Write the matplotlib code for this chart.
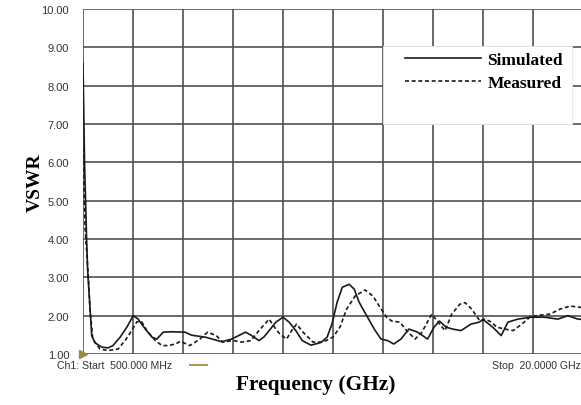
import numpy as np
import matplotlib
matplotlib.use("Agg")
import matplotlib.pyplot as plt
from matplotlib.patches import Rectangle

# data (GHz, VSWR)
sim_f = [0.5, 0.56, 0.64, 0.68, 0.84, 0.97, 1.23, 1.48, 1.67, 1.82, 1.95, 2.21, 2.46, 2.65,
         2.93, 3.19, 3.38, 3.63, 3.97, 4.48, 4.74, 5.27, 5.91, 6.30, 6.84, 7.08, 7.36, 7.55,
         7.76, 8.02, 8.30, 8.54, 8.80, 9.05, 9.39, 9.78, 10.02, 10.21, 10.41, 10.61, 10.88,
         11.08, 11.27, 11.53, 11.86, 12.12, 12.38, 12.62, 12.90, 13.21, 13.55, 13.94, 14.19,
         14.40, 14.66, 14.92, 15.24, 15.63, 15.95, 16.10, 16.48, 16.81, 17.07, 17.46, 17.97,
         18.50, 19.02, 19.41, 19.80, 20.0]
sim_v = [8.58, 6.0, 4.0, 3.2, 1.48, 1.29, 1.18, 1.16, 1.22, 1.34, 1.44, 1.70, 2.0, 1.91,
         1.65, 1.44, 1.39, 1.57, 1.58, 1.57, 1.49, 1.44, 1.32, 1.39, 1.57, 1.48, 1.35, 1.44,
         1.61, 1.83, 1.96, 1.83, 1.61, 1.35, 1.23, 1.30, 1.44, 1.78, 2.35, 2.74, 2.82,
         2.69, 2.35, 2.04, 1.65, 1.39, 1.35, 1.26, 1.39, 1.65, 1.57, 1.39, 1.70,
         1.86, 1.70, 1.65, 1.61, 1.78, 1.83, 1.90, 1.70, 1.48, 1.83, 1.91, 1.96,
         1.96, 1.91, 2.0, 1.91, 1.90]

meas_f = [0.5, 0.58, 0.64, 0.71, 0.77, 0.88, 1.16, 1.48, 1.87, 2.14, 2.40, 2.60, 2.79, 2.99,
          3.32, 3.58, 3.82, 4.10, 4.30, 4.67, 5.06, 5.36, 5.70, 5.95, 6.34, 6.71, 7.05, 7.36,
          7.76, 8.02, 8.18, 8.44, 8.64, 8.83, 9.08, 9.47, 9.86, 10.25, 10.52, 10.78, 11.11,
          11.50, 11.81, 12.08, 12.34, 12.54, 12.86, 13.12, 13.45, 13.71, 14.10, 14.35, 14.62,
          14.88, 15.20, 15.40, 15.66, 15.98, 16.18, 16.44, 16.63, 16.96, 17.28, 17.61, 17.93,
          18.26, 18.71, 19.10, 19.49, 19.88, 20.0]
meas_v = [6.38, 4.3, 3.7, 3.0, 2.2, 1.39, 1.13, 1.09, 1.13, 1.35, 1.61, 1.84, 1.84, 1.61,
          1.35, 1.22, 1.22, 1.26, 1.33, 1.22, 1.39, 1.57, 1.48, 1.31, 1.35, 1.31, 1.35, 1.61,
          1.91, 1.65, 1.52, 1.39, 1.61, 1.78, 1.57, 1.31, 1.31, 1.44, 1.70, 2.17, 2.51,
          2.67, 2.51, 2.22, 1.96, 1.86, 1.83, 1.61, 1.39, 1.56, 2.04, 1.83, 1.61,
          2.04, 2.30, 2.34, 2.17, 1.86, 1.91, 1.83, 1.70, 1.65, 1.61, 1.78, 1.96,
          2.01, 2.04, 2.17, 2.25, 2.22, 2.2]

yticks = [1, 2, 3, 4, 5, 6, 7, 8, 9, 10]
ylabels = ["%.2f" % v for v in yticks]
f_start, f_stop = 0.5, 20.0

fig = plt.figure(figsize=(5.81, 4.06), dpi=100)
# right edge of the grid is cut off by the screenshot
ax = fig.add_axes([83/581, 51/406, 500/581, 345/406])

ax.plot(sim_f, sim_v, color="#1a1a1a", lw=1.2, label="Simulated", zorder=4)
ax.plot(meas_f, meas_v, color="#1a1a1a", lw=1.2, dashes=(2.4, 1.6), label="Measured", zorder=4)

ax.set_xlim(f_start, f_stop)
ax.set_ylim(1, 10)
ax.set_xticks(np.linspace(f_start, f_stop, 11))
ax.set_xticklabels([])
ax.set_yticks(yticks)
ax.set_yticklabels(ylabels, fontsize=8, color="#333333", family="Liberation Sans")
ax.tick_params(length=0, pad=10)
ax.grid(True, color="#505050", lw=1.2)
ax.set_axisbelow(True)
for s in ax.spines.values():
    s.set_visible(False)

# white patch behind the legend hides the grid
ax.add_patch(Rectangle((0.6, 2/3), 0.378, 0.227, transform=ax.transAxes,
                       facecolor="white", edgecolor="#e6e6e6", lw=0.6, zorder=3))
leg = ax.legend(loc="upper left", bbox_to_anchor=(0.644, 0.877), frameon=False,
                prop={"family": "Liberation Serif", "weight": "bold", "size": 12.5},
                handlelength=4.4, handletextpad=0.35, labelspacing=0.42,
                borderpad=0, borderaxespad=0)
leg.set_zorder(5)

fig.text(35/581, 1 - 183/406, "VSWR", fontsize=14, fontweight="bold", family="Liberation Serif",
         rotation=90, ha="center", va="center")
fig.text(316/581, 1 - 385/406, "Frequency (GHz)", fontsize=15.4, fontweight="bold",
         family="Liberation Serif", ha="center", va="center")

# analyzer annotations
fig.text(57/581, 1 - 366/406, "Ch1: Start  500.000 MHz", fontsize=7.6, color="#333333",
         family="Liberation Sans", va="center")
fig.text(492/581, 1 - 366/406, "Stop  20.0000 GHz", fontsize=7.6, color="#333333",
         family="Liberation Sans", va="center")
fig.lines.append(plt.Line2D([190/581, 207/581], [1 - 366/406] * 2, transform=fig.transFigure,
                            color="#b39a55", lw=1.5))
ax.plot([f_start], [1], marker=">", color="#a08a3a", markersize=6, clip_on=False,
        transform=ax.transData, zorder=6)

plt.savefig("out.png", dpi=100)
